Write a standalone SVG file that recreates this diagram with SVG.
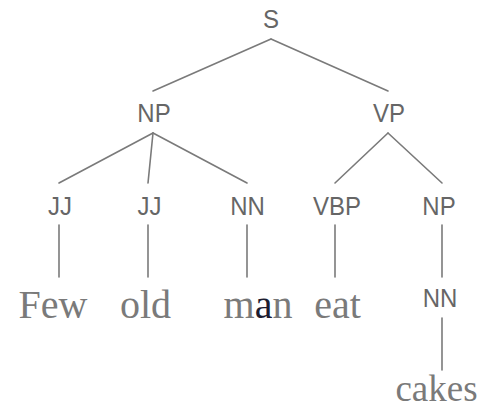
<svg xmlns="http://www.w3.org/2000/svg" width="481" height="407" viewBox="0 0 481 407">
  <style>
    .tag { font-family: "Liberation Sans", Arial, sans-serif; font-size: 24px; fill: #666666; text-anchor: middle; }
    .word { font-family: "Liberation Serif", "Times New Roman", serif; font-size: 40px; fill: #7a7a7a; text-anchor: middle; }
    .edge { stroke: #7a7a7a; stroke-width: 1.6; fill: none; stroke-linecap: round; }
  </style>
  <rect width="481" height="407" fill="#ffffff"/>

  <!-- tree edges -->
  <g id="connectors" class="edge">
    <line x1="271" y1="39" x2="153" y2="91"/>
    <line x1="271" y1="39" x2="388" y2="91"/>
    <line x1="153" y1="133" x2="59" y2="183"/>
    <line x1="153" y1="133" x2="148" y2="183"/>
    <line x1="153" y1="133" x2="247" y2="183"/>
    <line x1="388" y1="133" x2="335" y2="183"/>
    <line x1="388" y1="133" x2="442" y2="183"/>
    <line x1="59" y1="225" x2="59" y2="277"/>
    <line x1="148" y1="225" x2="148" y2="277"/>
    <line x1="247" y1="225" x2="247" y2="277"/>
    <line x1="335" y1="225" x2="335" y2="277"/>
    <line x1="442" y1="225" x2="442" y2="277"/>
    <line x1="442" y1="318" x2="442" y2="370"/>
  </g>

  <!-- phrase and part-of-speech tags (slightly tall lettering) -->
  <g id="node-S"><text class="tag" transform="translate(271 28) scale(1 1.1)">S</text></g>
  <g id="node-NP"><text class="tag" transform="translate(154 122) scale(1 1.1)">NP</text></g>
  <g id="node-VP"><text class="tag" transform="translate(389 122) scale(1 1.1)">VP</text></g>
  <g id="node-JJ1"><text class="tag" transform="translate(60 215) scale(1 1.1)">JJ</text></g>
  <g id="node-JJ2"><text class="tag" transform="translate(149.5 215) scale(1 1.1)">JJ</text></g>
  <g id="node-NN1"><text class="tag" transform="translate(247.5 215) scale(1 1.1)">NN</text></g>
  <g id="node-VBP"><text class="tag" transform="translate(337 215) scale(1 1.1)">VBP</text></g>
  <g id="node-NP2"><text class="tag" transform="translate(439 215) scale(1 1.1)">NP</text></g>
  <g id="node-NN2"><text class="tag" transform="translate(440 307) scale(1 1.1)">NN</text></g>

  <!-- words -->
  <g id="word-few"><text class="word" x="53" y="318">Few</text></g>
  <g id="word-old"><text class="word" x="145.5" y="318">old</text></g>
  <g id="word-man"><text class="word" x="258" y="318">m<tspan fill="#1c1c30">a</tspan>n</text></g>
  <g id="word-eat"><text class="word" x="337.5" y="318">eat</text></g>
  <g id="word-cakes"><text class="word" x="436.5" y="401" style="font-size:37px">cakes</text></g>
</svg>
